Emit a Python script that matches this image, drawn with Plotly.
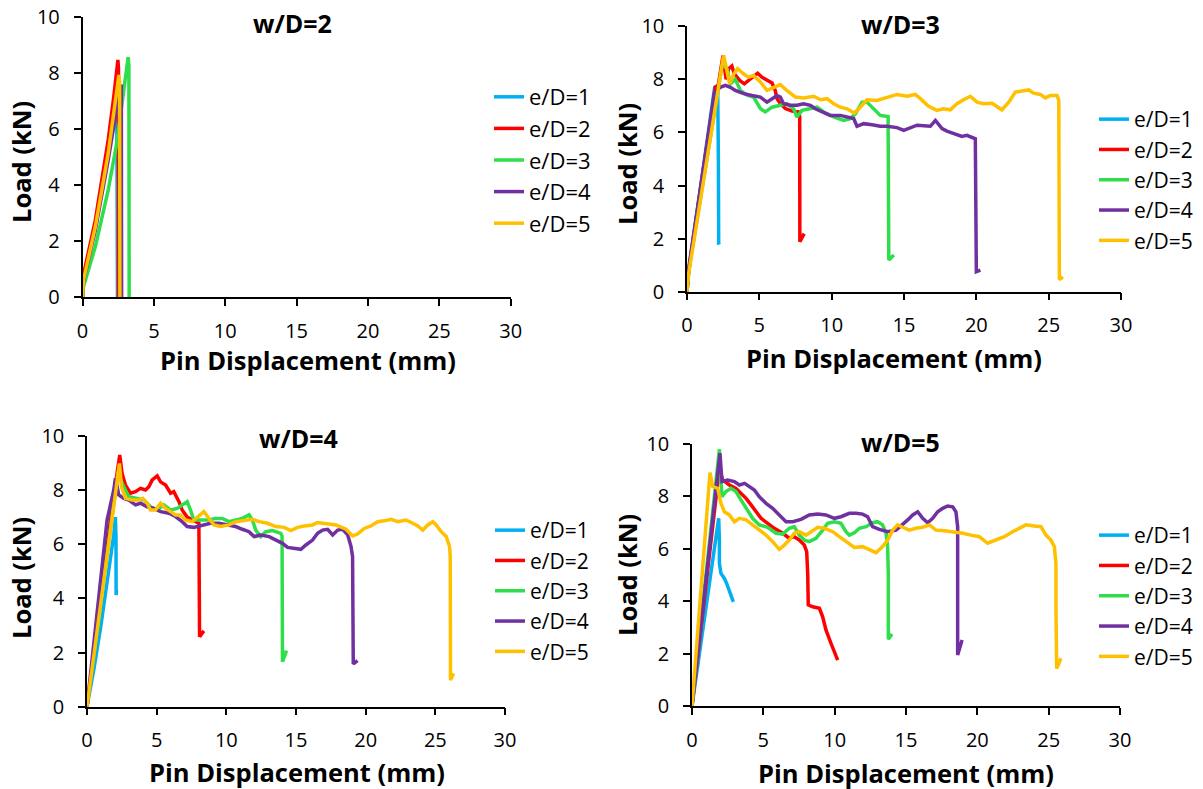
import plotly.graph_objects as go

W, H = 1203, 789

# ---------------- data: w/D = 2 ----------------
wd2_ed1_x = [0, 0.07, 0.9, 1.8, 2.4, 2.43, 2.45]
wd2_ed1_y = [0, 0.7, 2.6, 5.3, 7.2, 3.0, 0]
wd2_ed2_x = [0, 0.07, 0.9, 1.8, 2.2, 2.48, 2.52, 2.52]
wd2_ed2_y = [0, 0.8, 2.76, 5.62, 7.2, 8.48, 8.2, 0]
wd2_ed3_x = [0, 0.07, 0.9, 1.8, 2.4, 2.85, 3.2, 3.25, 3.27]
wd2_ed3_y = [0, 0.38, 1.81, 3.83, 5.5, 7.29, 8.58, 8.3, 0]
wd2_ed4_x = [0, 0.07, 0.9, 1.8, 2.45, 2.72, 2.74]
wd2_ed4_y = [0, 0.6, 2.4, 4.9, 6.9, 7.6, 0]
wd2_ed5_x = [0, 0.07, 0.9, 1.8, 2.55, 2.6, 2.62]
wd2_ed5_y = [0, 0.62, 2.52, 5.14, 7.94, 7.7, 0]

# ---------------- data: w/D = 3 ----------------
wd3_ed1_x = [0, 0.12, 1.91, 2.12, 2.17, 2.19, 2.3]
wd3_ed1_y = [0, 0.8, 7.7, 7.77, 5.0, 1.84, 1.86]
wd3_ed2_x = [0, 0.12, 1.96, 2.15, 2.49, 2.7, 2.88, 3.1, 3.27, 3.64, 3.96, 4.26, 4.49,
             4.88, 5.18, 5.58, 5.88, 6.1, 6.22, 6.45, 6.8, 7.26, 7.7, 7.79, 7.8, 8.1]
wd3_ed2_y = [0, 0.8, 7.7, 7.75, 8.9, 8.0, 8.4, 8.5, 8.2, 7.96, 7.83, 7.96, 8.08,
             8.23, 8.08, 7.96, 7.86, 7.58, 7.27, 7.08, 6.9, 6.8, 6.77, 6.6, 1.88, 2.19]
wd3_ed3_x = [0, 0.12, 2.45, 2.76, 3.0, 3.34, 3.69, 4.15, 4.6, 5.07, 5.41, 5.88, 6.45,
             6.9, 7.37, 7.6, 7.95, 8.53, 8.99, 9.45, 10.14, 10.83, 11.29, 11.64, 12.1,
             12.44, 12.79, 13.36, 13.9, 13.95, 14.3]
wd3_ed3_y = [0, 0.8, 8.6, 8.4, 7.83, 8.0, 7.58, 7.4, 7.33, 6.9, 6.77, 6.95, 7.02,
             7.08, 6.89, 6.58, 6.83, 6.89, 6.95, 6.77, 6.58, 6.45, 6.52, 6.7, 7.14,
             7.14, 6.95, 6.64, 6.6, 1.19, 1.38]
wd3_ed4_x = [0, 0.12, 1.9, 2.3, 2.65, 3.0, 3.34, 3.92, 4.49, 5.07, 5.53, 5.88, 6.22,
             6.45, 6.68, 7.14, 7.6, 8.06, 8.53, 8.87, 9.33, 9.9, 10.6, 11.06, 11.52,
             11.75, 12.21, 12.79, 13.36, 13.82, 14.52, 14.98, 15.44, 15.9, 16.36,
             16.82, 17.17, 17.63, 17.97, 18.43, 19.0, 19.35, 19.93, 20.0, 20.28]
wd3_ed4_y = [0, 0.9, 7.5, 7.7, 7.77, 7.7, 7.58, 7.46, 7.39, 7.33, 7.14, 7.27, 7.39,
             7.33, 7.08, 7.02, 7.02, 7.08, 7.02, 6.89, 6.77, 6.64, 6.64, 6.58, 6.52,
             6.23, 6.33, 6.29, 6.23, 6.23, 6.18, 6.08, 6.18, 6.27, 6.25,
             6.23, 6.45, 6.14, 6.05, 5.95, 5.85, 5.89, 5.76, 0.75, 0.81]
wd3_ed5_x = [0, 0.12, 2.53, 2.95, 3.23, 3.5, 3.92, 4.26, 4.6, 5.07, 5.53, 5.99, 6.45,
             6.9, 7.49, 8.06, 8.76, 9.22, 9.68, 10.14, 10.6, 11.06, 11.57, 11.98,
             12.44, 13.13, 13.82, 14.52, 15.21, 15.78, 16.13, 16.7, 17.28, 17.74,
             18.2, 18.66, 19.12, 19.58, 20.05, 20.5, 21.08, 21.77, 22.24, 22.7,
             23.16, 23.62, 23.96, 24.42, 24.77, 25.12, 25.58, 25.7, 25.74, 25.99]
wd3_ed5_y = [0, 0.7, 8.9, 7.83, 8.2, 8.4, 8.2, 8.08, 8.14, 7.9, 7.58, 7.7, 7.8,
             7.58, 7.33, 7.3, 7.36, 7.23, 7.27, 7.08, 6.95, 6.89, 6.73, 6.95,
             7.23, 7.2, 7.3, 7.43, 7.36, 7.43, 7.27, 6.98, 6.83, 6.89,
             6.85, 7.08, 7.23, 7.36, 7.14, 7.08, 7.1, 6.85, 7.14, 7.52,
             7.56, 7.6, 7.48, 7.43, 7.3, 7.39, 7.39, 7.2, 0.46, 0.56]

# ---------------- data: w/D = 4 ----------------
wd4_ed1_x = [0, 0.5, 1.0, 1.5, 1.92, 2.04, 2.08, 2.09, 2.12]
wd4_ed1_y = [0, 1.4, 3.0, 4.7, 6.34, 7.0, 6.3, 4.12, 4.3]
wd4_ed2_x = [0, 1.8, 2.35, 2.52, 2.76, 3.12, 3.48, 3.84, 4.2, 4.44, 4.68, 5.04, 5.28,
             5.64, 6.0, 6.23, 6.6, 6.83, 7.19, 7.55, 8.03, 8.08, 8.39]
wd4_ed2_y = [0, 7.38, 9.29, 8.6, 8.18, 7.88, 7.94, 8.06, 8.0, 8.12, 8.37, 8.52, 8.3,
             8.18, 7.88, 7.94, 7.57, 7.26, 7.0, 6.89, 6.77, 2.58, 2.8]
wd4_ed3_x = [0, 2.23, 2.52, 3.0, 3.6, 4.08, 4.56, 5.04, 5.52, 6.0, 6.47, 6.83, 7.19,
             7.43, 7.67, 8.15, 8.75, 9.23, 9.71, 10.19, 10.67, 11.15, 11.63, 11.87,
             12.11, 12.47, 12.83, 13.31, 13.91, 14.0, 14.03, 14.32]
wd4_ed3_y = [0, 8.68, 8.25, 7.75, 7.69, 7.63, 7.38, 7.26, 7.45, 7.26, 7.32, 7.45, 7.57,
             7.26, 6.89, 6.89, 6.89, 6.95, 6.95, 6.83, 6.89, 6.95, 7.08, 6.89,
             6.52, 6.28, 6.46, 6.5, 6.4, 6.3, 1.66, 2.07]
wd4_ed4_x = [0, 1.44, 1.92, 2.04, 2.28, 2.64, 3.0, 3.48, 3.84, 4.32, 4.8, 5.28, 5.88,
             6.35, 6.83, 7.19, 7.67, 8.27, 8.87, 9.47, 10.19, 10.67, 11.15, 11.63,
             11.99, 12.47, 13.07, 13.55, 14.03, 14.39, 14.87, 15.35, 15.71, 16.19,
             16.55, 16.91, 17.27, 17.63, 17.99, 18.35, 18.71, 18.95, 19.06, 19.11, 19.42]
wd4_ed4_y = [0, 6.89, 8.0, 8.43, 7.82, 7.69, 7.63, 7.45, 7.51, 7.38, 7.32, 7.2, 7.14,
             7.02, 6.83, 6.65, 6.62, 6.71, 6.77, 6.77, 6.71, 6.65, 6.55, 6.46,
             6.28, 6.34, 6.28, 6.15, 6.03, 5.88, 5.85, 5.81, 5.97, 6.15,
             6.4, 6.52, 6.55, 6.34, 6.52, 6.55, 6.34, 5.91, 5.54, 1.58, 1.7]
wd4_ed5_x = [0, 2.33, 2.47, 2.76, 3.24, 3.72, 4.0, 4.32, 4.56, 4.92, 5.28, 5.64, 6.0,
             6.35, 6.71, 7.07, 7.55, 8.03, 8.39, 8.75, 9.11, 9.59, 10.19, 10.67, 11.27,
             11.87, 12.35, 12.95, 13.55, 14.15, 14.63, 15.11, 15.59, 16.19, 16.55,
             17.15, 17.87, 18.59, 19.06, 19.42, 19.9, 20.38, 20.86, 21.34, 21.82,
             22.3, 22.9, 23.38, 23.74, 24.1, 24.46, 24.82, 25.06, 25.42, 25.78,
             26.02, 26.07, 26.09, 26.31]
wd4_ed5_y = [0, 8.98, 8.12, 7.69, 7.63, 7.63, 7.69, 7.51, 7.26, 7.26, 7.51, 7.32, 7.2,
             7.08, 7.08, 6.89, 6.83, 7.02, 7.2, 6.95, 6.71, 6.65, 6.71, 6.83, 6.89,
             6.92, 6.83, 6.77, 6.65, 6.62, 6.5, 6.62, 6.67, 6.71, 6.8,
             6.77, 6.71, 6.55, 6.3, 6.38, 6.58, 6.67, 6.83, 6.86, 6.92,
             6.83, 6.89, 6.77, 6.67, 6.52, 6.71, 6.83, 6.71, 6.46, 6.28,
             5.91, 5.54, 0.98, 1.23]

# ---------------- data: w/D = 5 ----------------
wd5_ed1_x = [0, 1.73, 1.87, 1.92, 1.92, 2.03, 2.27, 2.43, 2.62, 2.9]
wd5_ed1_y = [0, 6.58, 7.15, 6.32, 5.43, 5.05, 4.86, 4.67, 4.36, 3.97]
wd5_ed2_x = [0, 1.92, 2.15, 2.62, 3.08, 3.43, 3.79, 4.14, 4.49, 4.84, 5.3, 5.77, 6.36,
             6.82, 7.17, 7.52, 7.87, 8.04, 8.11, 8.15, 8.46, 8.93, 9.16, 9.39, 9.74, 10.21]
wd5_ed2_y = [0, 9.05, 8.61, 8.42, 8.29, 8.1, 7.91, 7.66, 7.4, 7.15, 6.96, 6.77, 6.58,
             6.39, 6.45, 6.32, 6.13, 5.88, 5.05, 3.85, 3.78, 3.72, 3.4, 2.9, 2.39, 1.75]
wd5_ed3_x = [0, 1.92, 2.1, 2.38, 2.73, 3.08, 3.43, 3.79, 4.25, 4.72, 5.3, 5.89, 6.36,
             6.82, 7.17, 7.52, 7.87, 8.22, 8.69, 9.16, 9.51, 9.98, 10.44, 10.79, 11.03,
             11.38, 11.73, 12.2, 12.66, 13.01, 13.36, 13.6, 13.71, 13.76, 13.76, 14.02]
wd5_ed3_y = [0, 9.78, 7.97, 8.17, 8.29, 8.17, 7.85, 7.53, 7.15, 6.9, 6.81, 6.58, 6.55,
             6.77, 6.83, 6.51, 6.32, 6.26, 6.39, 6.7, 6.96, 7.02, 6.96, 6.64, 6.51,
             6.6, 6.77, 6.83, 6.98, 7.02, 6.9, 6.58, 6.07, 5.05, 2.54, 2.74]
wd5_ed4_x = [0, 1.96, 2.1, 2.5, 2.97, 3.32, 3.69, 4.02, 4.37, 4.72, 5.19, 5.65, 6.12,
             6.59, 7.06, 7.64, 8.22, 8.81, 9.39, 9.98, 10.44, 11.03, 11.5, 11.96, 12.31,
             12.66, 13.13, 13.71, 14.3, 14.77, 15.12, 15.47, 15.82, 16.17, 16.52, 16.87,
             17.22, 17.57, 17.92, 18.27, 18.5, 18.62, 18.64, 18.62, 18.93]
wd5_ed4_y = [0, 9.63, 8.55, 8.61, 8.55, 8.42, 8.48, 8.36, 8.23, 7.97, 7.72, 7.53, 7.28,
             7.02, 7.02, 7.11, 7.28, 7.31, 7.28, 7.15, 7.21, 7.34, 7.34, 7.31, 7.21,
             6.83, 6.73, 6.64, 6.7, 6.9, 7.09, 7.28, 7.4, 7.15, 6.98, 7.15,
             7.4, 7.53, 7.62, 7.59, 7.4, 6.83, 5.05, 1.94, 2.51]
wd5_ed5_x = [0, 1.26, 1.45, 1.8, 2.03, 2.27, 2.62, 2.97, 3.32, 3.79, 4.25, 4.72, 5.19,
             5.65, 6.12, 6.47, 6.82, 7.17, 7.52, 7.99, 8.34, 8.81, 9.28, 9.86, 10.33,
             10.79, 11.38, 11.96, 12.43, 12.9, 13.36, 13.71, 14.07, 14.42, 14.77, 15.23,
             15.7, 16.17, 16.64, 17.1, 17.69, 18.27, 18.97, 19.56, 20.14, 20.72, 21.31,
             21.89, 22.48, 22.94, 23.41, 23.99, 24.46, 24.81, 25.16, 25.4, 25.51, 25.51,
             25.56, 25.86]
wd5_ed5_y = [0, 8.89, 8.36, 8.29, 7.72, 7.4, 7.28, 7.02, 7.15, 7.09, 6.9, 6.7, 6.51,
             6.26, 5.97, 6.13, 6.32, 6.58, 6.64, 6.51, 6.64, 6.81, 6.77, 6.64, 6.45,
             6.26, 6.04, 6.07, 5.94, 5.84, 6.07, 6.32, 6.7, 6.9, 6.81, 6.7,
             6.77, 6.81, 6.9, 6.7, 6.68, 6.64, 6.58, 6.51, 6.45, 6.2, 6.32,
             6.45, 6.64, 6.77, 6.9, 6.86, 6.83, 6.51, 6.32, 6.07, 5.43, 3.78,
             1.43, 1.82]

series_names = ["e/D=1", "e/D=2", "e/D=3", "e/D=4", "e/D=5"]
panel_titles = ["w/D=2", "w/D=3", "w/D=4", "w/D=5"]
x_title = "Pin Displacement (mm)"
y_title = "Load (kN)"
x_ticks = [0, 5, 10, 15, 20, 25, 30]
y_ticks = [0, 2, 4, 6, 8, 10]

colors = ["#00B0F0", "#FF0000", "#2EDF4B", "#7030A0", "#FFC000"]

panels = [
    [(wd2_ed1_x, wd2_ed1_y), (wd2_ed2_x, wd2_ed2_y), (wd2_ed3_x, wd2_ed3_y),
     (wd2_ed4_x, wd2_ed4_y), (wd2_ed5_x, wd2_ed5_y)],
    [(wd3_ed1_x, wd3_ed1_y), (wd3_ed2_x, wd3_ed2_y), (wd3_ed3_x, wd3_ed3_y),
     (wd3_ed4_x, wd3_ed4_y), (wd3_ed5_x, wd3_ed5_y)],
    [(wd4_ed1_x, wd4_ed1_y), (wd4_ed2_x, wd4_ed2_y), (wd4_ed3_x, wd4_ed3_y),
     (wd4_ed4_x, wd4_ed4_y), (wd4_ed5_x, wd4_ed5_y)],
    [(wd5_ed1_x, wd5_ed1_y), (wd5_ed2_x, wd5_ed2_y), (wd5_ed3_x, wd5_ed3_y),
     (wd5_ed4_x, wd5_ed4_y), (wd5_ed5_x, wd5_ed5_y)],
]

# plot-area pixel boxes: (left, right, top, bottom)
boxes = [(82.5, 510.7, 17.3, 297.3),
         (687.0, 1121.0, 26.2, 291.7),
         (87.0, 505.0, 435.8, 706.7),
         (692.0, 1120.0, 443.5, 706.0)]
# title / axis-title centre positions (px)
title_pos = [(292, 23), (900, 24), (298, 438), (900, 442)]
xtitle_pos = [(308, 360), (894, 358), (297, 772), (906, 773)]
ytitle_pos = [(21, 162), (627, 164), (21, 578), (627, 575)]
# legend top-left (px) and legend font sizes
legend_pos = [(489, 76), (1094, 99), (490, 510), (1094, 515)]
legend_size = [22, 21, 21, 21]

FONT = "Open Sans"
fig = go.Figure()
layout = dict(width=W, height=H, margin=dict(l=0, r=0, t=0, b=0, autoexpand=False),
              paper_bgcolor="white", plot_bgcolor="white",
              font=dict(family=FONT, color="black"))
annotations = []

for p, series in enumerate(panels):
    sfx = "" if p == 0 else str(p + 1)
    leg = "legend" if p == 0 else "legend" + str(p + 1)
    for s, (xs, ys) in enumerate(series):
        fig.add_trace(go.Scatter(x=xs, y=ys, mode="lines", name=series_names[s],
                                 line=dict(color=colors[s], width=3.5),
                                 xaxis="x" + sfx, yaxis="y" + sfx, legend=leg))
    l, r, t, b = boxes[p]
    axcommon = dict(showgrid=False, zeroline=False, showline=True, linecolor="black",
                    linewidth=1.5, ticks="outside", ticklen=7, tickwidth=1.5,
                    tickcolor="black", automargin=False,
                    tickfont=dict(family=FONT, size=20, color="black"))
    layout["xaxis" + sfx] = dict(domain=[l / W, r / W], range=[0, 30], tickvals=x_ticks,
                                 anchor="y" + sfx, ticklabelstandoff=8, **axcommon)
    layout["yaxis" + sfx] = dict(domain=[1 - b / H, 1 - t / H], range=[0, 10],
                                 tickvals=y_ticks, anchor="x" + sfx,
                                 ticklabelstandoff=10, **axcommon)
    lx, ly = legend_pos[p]
    layout[leg] = dict(x=lx / W, y=1 - ly / H, xanchor="left", yanchor="top",
                       bgcolor="rgba(0,0,0,0)",
                       font=dict(family=FONT, size=legend_size[p], color="black"),
                       tracegroupgap=0)
    tx, ty = title_pos[p]
    annotations.append(dict(text="<b>%s</b>" % panel_titles[p], x=tx / W, y=1 - ty / H,
                            xref="paper", yref="paper", showarrow=False,
                            xanchor="center", yanchor="middle",
                            font=dict(family=FONT, size=25, color="black")))
    xx, xy = xtitle_pos[p]
    annotations.append(dict(text="<b>%s</b>" % x_title, x=xx / W, y=1 - xy / H,
                            xref="paper", yref="paper", showarrow=False,
                            xanchor="center", yanchor="middle",
                            font=dict(family=FONT, size=25.5, color="black")))
    yx, yy = ytitle_pos[p]
    annotations.append(dict(text="<b>%s</b>" % y_title, x=yx / W, y=1 - yy / H,
                            xref="paper", yref="paper", showarrow=False, textangle=-90,
                            xanchor="center", yanchor="middle",
                            font=dict(family=FONT, size=25.5, color="black")))

layout["annotations"] = annotations
fig.update_layout(**layout)
fig.write_html("out.html", config={"displayModeBar": False},
               post_script="document.body.style.margin='0';")
